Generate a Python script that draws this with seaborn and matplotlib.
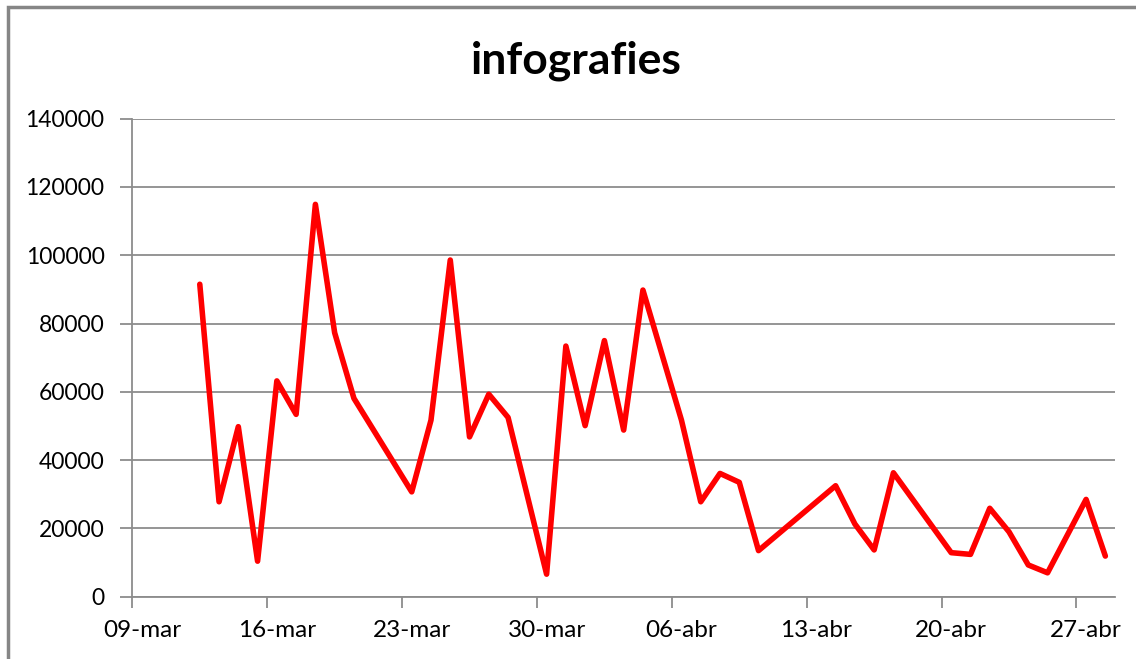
import pandas as pd
import matplotlib
matplotlib.use("Agg")
import matplotlib.pyplot as plt
from matplotlib.patches import Rectangle
import seaborn as sns

# ============================================================
# Data
# ============================================================

dates = [
    "2020-03-12", "2020-03-13", "2020-03-14", "2020-03-15", "2020-03-16",
    "2020-03-17", "2020-03-18", "2020-03-19", "2020-03-20", "2020-03-23",
    "2020-03-24", "2020-03-25", "2020-03-26", "2020-03-27", "2020-03-28",
    "2020-03-30", "2020-03-31", "2020-04-01", "2020-04-02", "2020-04-03",
    "2020-04-04", "2020-04-06", "2020-04-07", "2020-04-08", "2020-04-09",
    "2020-04-10", "2020-04-14", "2020-04-15", "2020-04-16", "2020-04-17",
    "2020-04-20", "2020-04-21", "2020-04-22", "2020-04-23", "2020-04-24",
    "2020-04-25", "2020-04-27", "2020-04-28",
]
values = [
    91500, 27800, 49800, 10400, 63200,
    53400, 114900, 77300, 58100, 30700,
    51700, 98600, 46800, 59300, 52500,
    6600, 73400, 50100, 75000, 48800,
    89800, 51700, 27800, 36100, 33500,
    13500, 32500, 21300, 13700, 36300,
    12900, 12400, 25900, 19000, 9300,
    7000, 28500, 11900,
]
y_ticks = [0, 20000, 40000, 60000, 80000, 100000, 120000, 140000]
month_names = {3: "mar", 4: "abr"}
title = "infografies"

x_start = pd.Timestamp("2020-03-09")
x_end = pd.Timestamp("2020-04-29")

# ============================================================
# Style
# ============================================================

sns.set_theme(style="white")
plt.rcParams["font.family"] = ["Lato", "DejaVu Sans"]
plt.rcParams["text.color"] = "black"

GRID = "#8c8c8c"

df = pd.DataFrame({"date": pd.to_datetime(dates), "value": values})
# Excel date axis: points sit in the middle of each day
df["date"] = df["date"] + pd.Timedelta(hours=12)

fig = plt.figure(figsize=(11.36, 6.59), dpi=100)
ax = fig.add_axes([0.1165, 0.0945, 0.865, 0.7255])

sns.lineplot(data=df, x="date", y="value", ax=ax, color="#ff0000",
             linewidth=4.0, solid_joinstyle="round", solid_capstyle="round")

ax.set_xlim(x_start, x_end)
ax.set_ylim(0, 140000)
ax.set_yticks(y_ticks)
ax.set_yticklabels([str(v) for v in y_ticks])

# major ticks = tick marks, minor ticks (noon) = labels
major = pd.date_range(x_start, x_end, freq="7D")
ax.set_xticks(major)
ax.set_xticklabels([""] * len(major))
label_pos = major[major < x_end] + pd.Timedelta(hours=12)
ax.set_xticks(label_pos, minor=True)
ax.set_xticklabels([f"{d.day:02d}-{month_names[d.month]}" for d in label_pos],
                   minor=True)

ax.tick_params(axis="x", which="major", length=8, width=1.3, color=GRID,
               direction="out", bottom=True)
ax.tick_params(axis="x", which="minor", length=0, pad=17, labelsize=17.5,
               labelcolor="black", bottom=True)
ax.tick_params(axis="y", length=9, width=1.3, color=GRID, direction="out",
               pad=11, labelsize=16.5, labelcolor="black", left=True)

ax.grid(axis="y", color=GRID, linewidth=1.3)
ax.grid(axis="x", visible=False)
ax.set_axisbelow(True)

for side in ["top", "right"]:
    ax.spines[side].set_visible(False)
for side in ["left", "bottom"]:
    ax.spines[side].set_color(GRID)
    ax.spines[side].set_linewidth(1.3)

ax.set_xlabel("")
ax.set_ylabel("")

fig.text(0.507, 1 - 61 / 659, title, ha="center", va="center",
         fontsize=32, fontweight="bold", color="black")

# chart frame (Excel chart area border)
fig.patches.append(Rectangle((8 / 1136, -0.5), 1.5, 1.5 - 7 / 659,
                             transform=fig.transFigure, fill=False,
                             edgecolor="#868686", linewidth=2.5))

fig.savefig("out.png", dpi=100)
